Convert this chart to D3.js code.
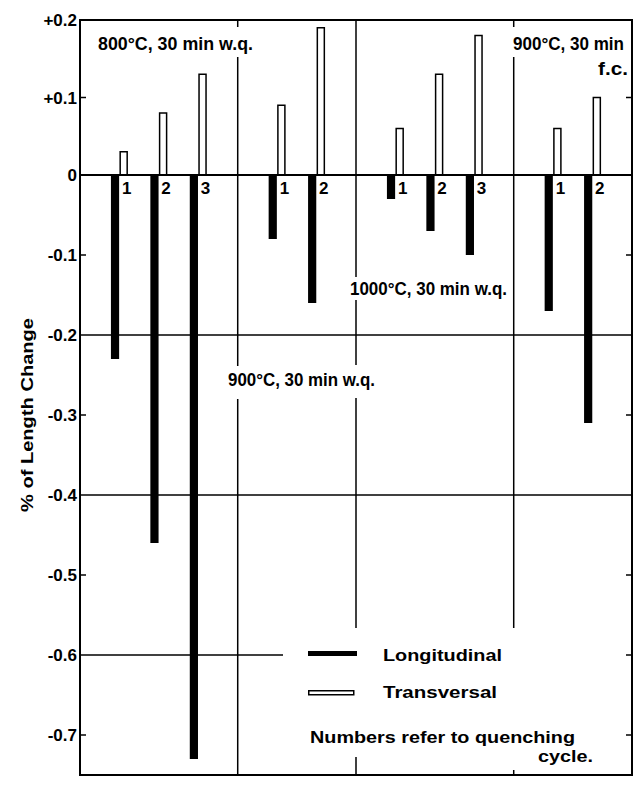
<!DOCTYPE html>
<html>
<head>
<meta charset="utf-8">
<script src="https://cdn.jsdelivr.net/npm/d3@7"></script>
<style>
  html, body { margin: 0; padding: 0; background: #fff; }
  svg { display: block; }
  text { font-family: "Liberation Sans", Arial, sans-serif; font-weight: bold; fill: #000; }
</style>
</head>
<body>
<svg id="chart" width="640" height="786"></svg>
<script>
// ---- data ----
const groupLabels = ["800°C, 30 min w.q.", "900°C, 30 min w.q.", "1000°C, 30 min w.q.", "900°C, 30 min", "f.c."];
const groupOf = [0, 0, 0, 1, 1, 2, 2, 2, 3, 3];
const cycles = [1, 2, 3, 1, 2, 1, 2, 3, 1, 2];
const longitudinal = [-0.23, -0.46, -0.73, -0.08, -0.16, -0.03, -0.07, -0.10, -0.17, -0.31];
const transversal = [0.03, 0.08, 0.13, 0.09, 0.19, 0.06, 0.13, 0.18, 0.06, 0.10];
const yTickValues = [0.2, 0.1, 0, -0.1, -0.2, -0.3, -0.4, -0.5, -0.6, -0.7];
const yTickLabels = ["+0.2", "+0.1", "0", "-0.1", "-0.2", "-0.3", "-0.4", "-0.5", "-0.6", "-0.7"];
const gridValues = [-0.2, -0.4];
const yTitle = "% of Length Change";
const legendLabels = ["Longitudinal", "Transversal"];
const noteLines = ["Numbers refer to quenching", "cycle."];

// ---- layout ----
const svg = d3.select("#chart");
const L = 80, R = 632, T = 20, B = 775;
const y = d3.scaleLinear().domain([-0.75, 0, 0.2]).range([B, 175, T]);
const x = d3.scaleLinear().domain([-1, 13]).range([L, R]);
const slot = (d, i) => i + groupOf[i];
const bw = 8.5;

// grid lines
svg.selectAll(".grid").data(gridValues).enter().append("line")
  .attr("x1", L).attr("x2", R)
  .attr("y1", d => y(d)).attr("y2", d => y(d))
  .attr("stroke", "#000").attr("stroke-width", 1.5);
// partial -0.6 line
svg.append("line").attr("x1", L).attr("x2", 283)
  .attr("y1", y(-0.6)).attr("y2", y(-0.6))
  .attr("stroke", "#000").attr("stroke-width", 1.5);

// group separators (slots 3, 6, 10) with gaps around texts
const sepSegments = [
  { s: 3, segs: [[T, 27], [57, 366], [399, B]] },
  { s: 6, segs: [[T, 277], [300, 365], [398, 628], [757, B]] },
  { s: 10, segs: [[T, 27], [57, 628], [770, B]] }
];
sepSegments.forEach(sp => {
  sp.segs.forEach(sg => {
    svg.append("line").attr("x1", x(sp.s)).attr("x2", x(sp.s))
      .attr("y1", sg[0]).attr("y2", sg[1])
      .attr("stroke", "#000").attr("stroke-width", 1.5);
  });
});

// axis ticks (inward) left and right
const minorTicks = yTickValues.filter(v => v !== 0.2 && v !== 0 && gridValues.indexOf(v) < 0);
svg.selectAll(".tl").data(minorTicks.filter(v => v !== -0.6)).enter().append("line")
  .attr("x1", L).attr("x2", L + 6).attr("y1", d => y(d)).attr("y2", d => y(d))
  .attr("stroke", "#000").attr("stroke-width", 1.5);
svg.selectAll(".tr").data(minorTicks).enter().append("line")
  .attr("x1", R - 6).attr("x2", R).attr("y1", d => y(d)).attr("y2", d => y(d))
  .attr("stroke", "#000").attr("stroke-width", 1.5);

// bars: longitudinal (black, left of center, downward)
svg.selectAll(".lon").data(longitudinal).enter().append("rect")
  .attr("x", (d, i) => x(slot(d, i)) - bw)
  .attr("y", d => y(Math.max(0, d)))
  .attr("width", bw - 0.3)
  .attr("height", d => Math.abs(y(d) - y(0)))
  .attr("fill", "#000");
// transversal (white, outlined)
svg.selectAll(".tra").data(transversal).enter().append("rect")
  .attr("x", (d, i) => x(slot(d, i)) + 0.75)
  .attr("y", d => y(d))
  .attr("width", bw - 1.5)
  .attr("height", d => y(0) - y(d))
  .attr("fill", "#fff").attr("stroke", "#000").attr("stroke-width", 1.5);

// zero line
svg.append("line").attr("x1", L).attr("x2", R).attr("y1", y(0)).attr("y2", y(0))
  .attr("stroke", "#000").attr("stroke-width", 2);

// cycle numbers
svg.selectAll(".cyc").data(cycles).enter().append("text")
  .attr("x", (d, i) => x(slot(d, i)) + 2.5)
  .attr("y", y(0) + 19)
  .attr("font-size", 17)
  .text(d => d);

// frame
svg.append("rect").attr("x", L).attr("y", T).attr("width", R - L).attr("height", B - T)
  .attr("fill", "none").attr("stroke", "#000").attr("stroke-width", 2);

// y tick labels
svg.selectAll(".yl").data(yTickValues).enter().append("text")
  .attr("x", L - 3).attr("y", d => y(d) + 6)
  .attr("text-anchor", "end").attr("font-size", 17)
  .text((d, i) => yTickLabels[i]);

// y title
svg.append("text")
  .attr("transform", "translate(33,415) rotate(-90)")
  .attr("text-anchor", "middle").attr("font-size", 17)
  .attr("textLength", 194).attr("lengthAdjust", "spacingAndGlyphs")
  .text(yTitle);

// group labels
const gl = [
  { t: groupLabels[0], x: 98, y: 50, w: 155 },
  { t: groupLabels[1], x: 228, y: 386, w: 147 },
  { t: groupLabels[2], x: 350, y: 295, w: 157 },
  { t: groupLabels[3], x: 513, y: 50, w: 111 },
  { t: groupLabels[4], x: 598, y: 75, w: 30 }
];
svg.selectAll(".gl").data(gl).enter().append("text")
  .attr("x", d => d.x).attr("y", d => d.y)
  .attr("font-size", 18.5)
  .attr("textLength", d => d.w).attr("lengthAdjust", "spacingAndGlyphs")
  .text(d => d.t);

// legend
svg.append("rect").attr("x", 308).attr("y", 651).attr("width", 49).attr("height", 5).attr("fill", "#000");
svg.append("rect").attr("x", 308.75).attr("y", 690.75).attr("width", 45).attr("height", 4)
  .attr("fill", "#fff").attr("stroke", "#000").attr("stroke-width", 1.5);
svg.append("text").attr("x", 383).attr("y", 661).attr("font-size", 17)
  .attr("textLength", 119).attr("lengthAdjust", "spacingAndGlyphs").text(legendLabels[0]);
svg.append("text").attr("x", 383).attr("y", 698).attr("font-size", 17)
  .attr("textLength", 114).attr("lengthAdjust", "spacingAndGlyphs").text(legendLabels[1]);
svg.append("text").attr("x", 310).attr("y", 743).attr("font-size", 17)
  .attr("textLength", 265).attr("lengthAdjust", "spacingAndGlyphs").text(noteLines[0]);
svg.append("text").attr("x", 538).attr("y", 762).attr("font-size", 17)
  .attr("textLength", 55).attr("lengthAdjust", "spacingAndGlyphs").text(noteLines[1]);
</script>
</body>
</html>
